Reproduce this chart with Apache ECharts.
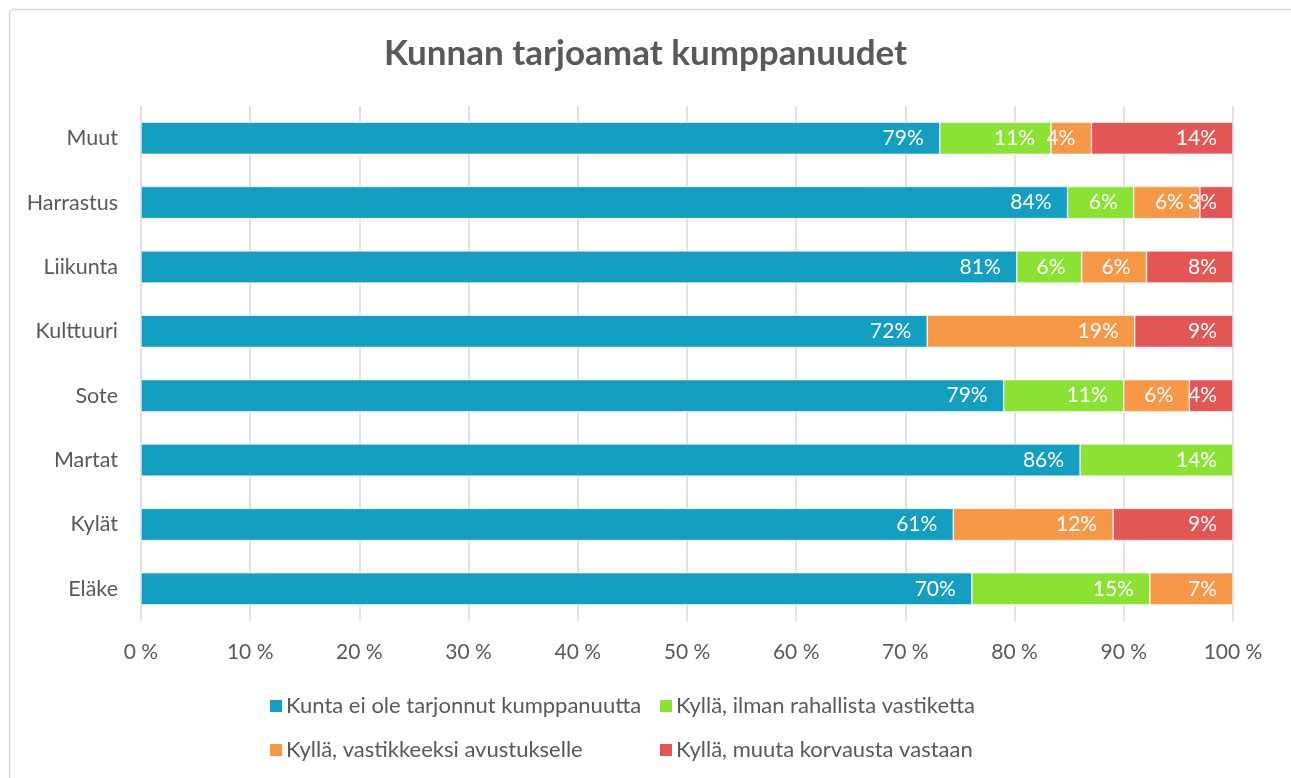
<!DOCTYPE html>
<html>
<head>
<meta charset="utf-8">
<style>
  html, body { margin: 0; padding: 0; background: #fff; }
  #chart { width: 1291px; height: 778px; }
</style>
<script src="https://cdn.jsdelivr.net/npm/echarts@6/dist/echarts.min.js"></script>
</head>
<body>
<div id="chart"></div>
<script>
// Organisations, listed top to bottom
const categories = ['Muut', 'Harrastus', 'Liikunta', 'Kulttuuri', 'Sote', 'Martat', 'Kylät', 'Eläke'];

// Share of answers per option (%), as labelled on each segment
const kuntaEiOle   = [79, 84, 81, 72, 79, 86, 61, 70];
const ilmanVastik  = [11,  6,  6,  0, 11, 14,  0, 15];
const avustukselle = [ 4,  6,  6, 19,  6,  0, 12,  7];
const muutaKorv    = [14,  3,  8,  9,  4,  0,  9,  0];

const seriesNames = [
  'Kunta ei ole tarjonnut kumppanuutta',
  'Kyllä, ilman rahallista vastiketta',
  'Kyllä, vastikkeeksi avustukselle',
  'Kyllä, muuta korvausta vastaan'
];
const seriesValues = [kuntaEiOle, ilmanVastik, avustukselle, muutaKorv];
const colors = ['#149EC2', '#8BE234', '#F79748', '#E25656'];

const xTicks = [0, 10, 20, 30, 40, 50, 60, 70, 80, 90, 100];

// Each bar is scaled to 100 % of its row total
const rowTotals = categories.map((_, i) => seriesValues.reduce((s, arr) => s + arr[i], 0));

const FONT = 'Lato, "Noto Sans", sans-serif';
const GREY = '#595959';

const series = seriesNames.map((name, k) => ({
  name,
  type: 'bar',
  stack: 'total',
  barCategoryGap: '50%',
  itemStyle: { color: colors[k], borderColor: '#ffffff', borderWidth: 0.6 },
  label: {
    show: true,
    position: 'insideRight',
    distance: 16,
    color: '#ffffff',
    fontFamily: FONT,
    fontSize: 21,
    formatter: p => seriesValues[k][p.dataIndex] + '%'
  },
  emphasis: { disabled: true },
  data: seriesValues[k].map((v, i) => v > 0 ? (v / rowTotals[i]) * 100 : null)
}));

const legendText = { fontFamily: FONT, fontSize: 22, lineHeight: 22, color: GREY, padding: [0, 0, 0, -2] };

const chart = echarts.init(document.getElementById('chart'));
chart.setOption({
  animation: false,
  color: colors,
  title: {
    text: 'Kunnan tarjoamat kumppanuudet',
    left: 'center',
    top: 31,
    textStyle: { fontFamily: FONT, fontSize: 35, fontWeight: 'bold', color: GREY }
  },
  graphic: [{
    type: 'rect',
    left: 7, top: 7,
    shape: { width: 1320, height: 820, r: 4 },
    style: { fill: 'none', stroke: '#d9d9d9', lineWidth: 1.5 },
    silent: true
  }],
  legend: [
    {
      data: [seriesNames[0], seriesNames[2]],
      orient: 'vertical',
      left: 263, top: 690,
      itemWidth: 14, itemHeight: 14, itemGap: 22,
      icon: 'rect',
      textStyle: legendText
    },
    {
      data: [seriesNames[1], seriesNames[3]],
      orient: 'vertical',
      left: 653, top: 690,
      itemWidth: 14, itemHeight: 14, itemGap: 22,
      icon: 'rect',
      textStyle: legendText
    }
  ],
  grid: { left: 141, right: 58, top: 106, bottom: 157, containLabel: false },
  xAxis: {
    type: 'value',
    min: xTicks[0],
    max: xTicks[xTicks.length - 1],
    interval: xTicks[1] - xTicks[0],
    axisLine: { show: false },
    axisTick: { show: false },
    splitLine: { show: true, lineStyle: { color: '#d9d9d9', width: 1.5 } },
    axisLabel: {
      margin: 21,
      fontFamily: FONT, fontSize: 21, color: GREY,
      formatter: v => v + ' %'
    }
  },
  yAxis: {
    type: 'category',
    data: categories,
    inverse: true,
    axisLine: { show: false },
    axisTick: { show: false },
    axisLabel: { margin: 23, fontFamily: FONT, fontSize: 21.5, color: GREY }
  },
  series
});
</script>
</body>
</html>
